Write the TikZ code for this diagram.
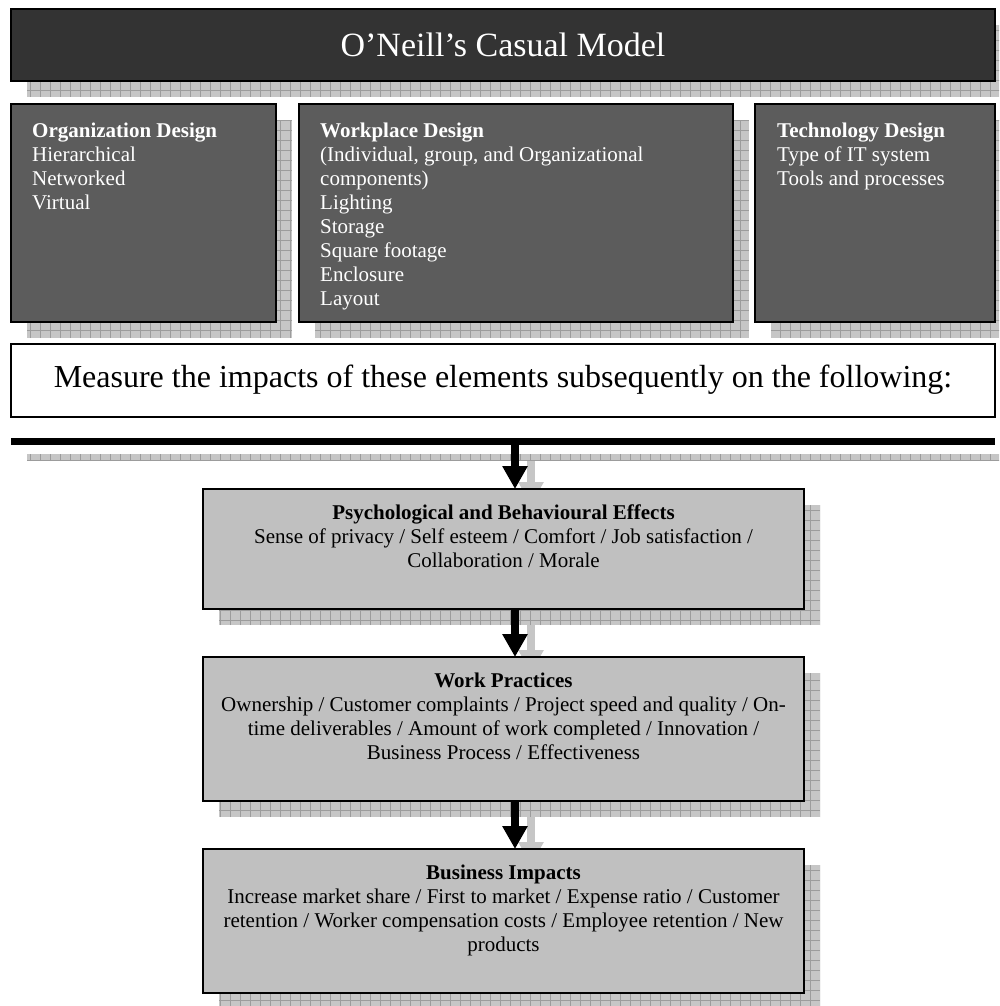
\documentclass[tikz,border=0pt]{standalone}
\usepackage{fontspec}
\setmainfont{Liberation Serif}
\usetikzlibrary{arrows.meta,backgrounds,calc}

\definecolor{titlegray}{HTML}{333333}
\definecolor{designgray}{HTML}{5C5C5C}
\definecolor{effectgray}{HTML}{C0C0C0}
\definecolor{shadefill}{HTML}{C6C6C6}
\definecolor{shadegrid}{HTML}{9C9C9C}

\tikzset{
  panel/.style={draw=black, line width=2.5pt, inner sep=0pt, outer sep=0pt, anchor=north west},
  titlebox/.style={panel, fill=titlegray},
  designbox/.style={panel, fill=designgray},
  notebox/.style={panel, fill=white, line width=2.2pt},
  effectbox/.style={panel, fill=effectgray, line width=2pt},
  dropshade/.style={fill=shadefill,
    path picture={\draw[shadegrid, line width=0.7pt, step=10pt]
      (path picture bounding box.south west) grid (path picture bounding box.north east);}},
  bodytext/.style={font=\fontsize{21}{24}\selectfont, inner sep=0pt},
  designtext/.style={bodytext, text=white, align=left, anchor=north west},
  effecttext/.style={bodytext, text=black, align=center, anchor=north},
  bigtext/.style={font=\fontsize{34}{40}\selectfont, inner sep=0pt},
  notetext/.style={font=\fontsize{32}{38}\selectfont, inner sep=0pt},
  flow/.style={line width=8pt, -{Triangle[width=24pt,length=23pt]}},
  flowshade/.style={flow, draw=shadefill},
}

\begin{document}
\begin{tikzpicture}[x=1pt,y=-1pt]
\useasboundingbox (0,0) rectangle (999,1006);

% title banner
\node[titlebox, minimum width=984, minimum height=72] (title) at (11,9) {};
\node[bigtext, text=white] (titletext) at (title.center) {O’Neill’s Casual Model};

% the three design elements
\node[designbox, minimum width=265, minimum height=218] (org) at (11,104) {};
\node[designbox, minimum width=434, minimum height=218] (place) at (299,104) {};
\node[designbox, minimum width=240, minimum height=218] (tech) at (755,104) {};

\node[designtext] (orgtext) at ($(org.north west)+(21,18.5)$)
  {\textbf{Organization Design}\\Hierarchical\\Networked\\Virtual};
\node[designtext] (placetext) at ($(place.north west)+(21,18.5)$)
  {\textbf{Workplace Design}\\(Individual, group, and Organizational\\components)\\Lighting\\Storage\\Square footage\\Enclosure\\Layout};
\node[designtext] (techtext) at ($(tech.north west)+(22,18.5)$)
  {\textbf{Technology Design}\\Type of IT system\\Tools and processes};

% measurement statement
\node[notebox, minimum width=984, minimum height=73] (measure) at (11,344) {};
\node[notetext, anchor=base] (measuretext) at ($(measure.north)+(0,43)$)
  {Measure the impacts of these elements subsequently on the following:};

% divider bar
\node[fill=black, inner sep=0pt, outer sep=0pt, minimum width=984, minimum height=7, anchor=north west] (bar) at (11,438) {};

% effect chain
\node[effectbox, minimum width=601, minimum height=120] (psych) at (203,489) {};
\node[effectbox, minimum width=601, minimum height=144] (work) at (203,657) {};
\node[effectbox, minimum width=601, minimum height=144] (impact) at (203,849) {};

\node[effecttext] (psychtext) at ($(psych.north)+(0,15.5)$)
  {\textbf{Psychological and Behavioural Effects}\\Sense of privacy / Self esteem / Comfort / Job satisfaction /\\Collaboration / Morale};
\node[effecttext] (worktext) at ($(work.north)+(0,15.5)$)
  {\textbf{Work Practices}\\Ownership / Customer complaints / Project speed and quality / On-\\time deliverables / Amount of work completed / Innovation /\\Business Process / Effectiveness};
\node[effecttext] (impacttext) at ($(impact.north)+(0,15.5)$)
  {\textbf{Business Impacts}\\Increase market share / First to market / Expense ratio / Customer\\retention / Worker compensation costs / Employee retention / New\\products};

% arrows down the chain
\coordinate (lane) at (515,0);
\draw[flow] (bar.south -| lane) -- (psych.north -| lane);
\draw[flow] (psych.south -| lane) -- (work.north -| lane);
\draw[flow] (work.south -| lane) -- (impact.north -| lane);

% drop shadows behind everything
\begin{scope}[on background layer]
  \clip (0,0) rectangle (999,1006);
  \foreach \n in {title,org,place,tech,bar,psych,work,impact}
    \path[dropshade] ($(\n.north west)+(16,16)$) rectangle ($(\n.south east)+(16,16)$);
  \draw[flowshade] ($(bar.south -| lane)+(16,16)$) -- ($(psych.north -| lane)+(16,16)$);
  \draw[flowshade] ($(psych.south -| lane)+(16,16)$) -- ($(work.north -| lane)+(16,16)$);
  \draw[flowshade] ($(work.south -| lane)+(16,16)$) -- ($(impact.north -| lane)+(16,16)$);
\end{scope}
\end{tikzpicture}
\end{document}
